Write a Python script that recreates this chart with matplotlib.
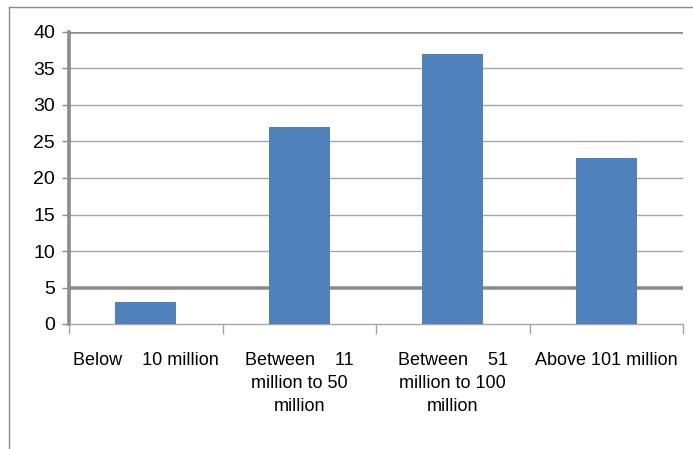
import matplotlib
matplotlib.use("Agg")
import matplotlib.pyplot as plt

# data
categories = ["Below    10 million", "Between    11\nmillion to 50\nmillion",
              "Between    51\nmillion to 100\nmillion", "Above 101 million"]
values = [3, 27, 37, 22.8]
yticks = [0, 5, 10, 15, 20, 25, 30, 35, 40]

plt.rcParams['font.family'] = ['Liberation Sans', 'DejaVu Sans']

fig = plt.figure(figsize=(6.93, 4.49), dpi=100)
# outer chart border (left & top visible)
fig.add_artist(plt.Line2D([9/693, 9/693], [0, 1 - 7/449], transform=fig.transFigure, color='#8a8a8a', lw=1))
fig.add_artist(plt.Line2D([9/693, 1], [1 - 7/449, 1 - 7/449], transform=fig.transFigure, color='#8a8a8a', lw=1))

ax = fig.add_axes([69/693, 1 - 324/449, (683 - 69)/693, (324 - 32)/449])
x = list(range(len(categories)))
ax.bar(x, values, width=0.4, color='#4f81bd', zorder=3)

ax.set_xlim(-0.5, len(categories) - 0.5)
ax.set_ylim(0, 40)
ax.set_yticks(yticks)
ax.set_yticklabels([str(v) for v in yticks], fontsize=14)

for v in yticks[1:]:
    if v in (5, 40):
        ax.axhline(v, color='#8c8c8c', lw=2.6, zorder=1)
    else:
        ax.axhline(v, color='#a6a6a6', lw=1.0, zorder=1)

for s in ['top', 'right']:
    ax.spines[s].set_visible(False)
ax.spines['left'].set_color('#8c8c8c')
ax.spines['left'].set_linewidth(2.6)
ax.spines['bottom'].set_color('#a6a6a6')
ax.spines['bottom'].set_linewidth(1.0)
ax.tick_params(axis='y', length=5, color='#8c8c8c', width=1.0, pad=5)

ax.set_xticks([i - 0.5 for i in range(len(categories) + 1)])
ax.set_xticklabels([])
ax.tick_params(axis='x', length=7, color='#a6a6a6', width=1.0)
for i, c in enumerate(categories):
    ax.text(i, -3.9, c, ha='center', va='top', fontsize=13, linespacing=1.45)

fig.savefig("out.png", dpi=100)
